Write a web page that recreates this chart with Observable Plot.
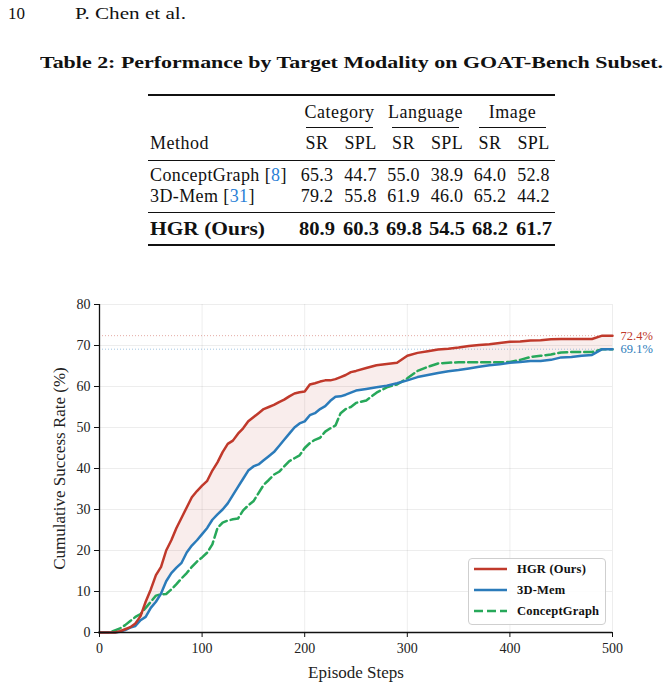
<!DOCTYPE html>
<html><head><meta charset="utf-8">
<script src="https://cdn.jsdelivr.net/npm/d3@7"></script>
<script src="https://cdn.jsdelivr.net/npm/@observablehq/plot@0.6"></script>
<style>
body{margin:0;background:#fff;width:668px;height:686px;position:relative;overflow:hidden;font-family:"Liberation Serif","Times New Roman",Times,serif;color:#111;}
.t{position:absolute;white-space:nowrap;line-height:1;}
.rule{position:absolute;background:#111;}
#chart{position:absolute;left:0;top:290px;}
#chart svg, #chart svg text{font-family:"Liberation Serif","Times New Roman",Times,serif !important;}
#legend{position:absolute;left:468px;top:558px;width:138px;height:67px;border:1px solid #cfcfcf;border-radius:4px;background:rgba(255,255,255,0.85);box-sizing:border-box;}
</style></head><body>
<div id="chart"></div>
<script>
// ---------- chart data ----------
const steps = [0,5,10,15,20,25,30,35,40,45,50,55,60,65,70,75,80,85,90,95,100,105,110,115,120,125,130,135,140,145,150,155,160,165,170,175,180,185,190,195,200,205,210,215,220,225,230,235,240,245,250,260,270,280,290,300,310,320,330,340,350,360,370,380,390,400,410,420,430,440,450,460,470,480,490,500];
const hgr = [0,0,0,0,0.3,0.8,1.3,2.2,4.0,7.5, 10.5,14.0,16.0,20.0,22.5,25.5,28.0,30.5,33.0,34.5, 35.8,37.0,39.5,41.5,44.0,46.0,46.8,48.5,49.8,51.5, 52.5,53.5,54.5,55.0,55.5,56.2,56.8,57.6,58.3,58.6, 58.8,60.5,60.8,61.2,61.5,61.5,61.8,62.3,62.8,63.5, 63.8,
  64.5,65.2,65.5,65.8,67.5,68.2,68.6,69.0,69.2,69.5, 69.9,70.1,70.3,70.6,70.9,71.0,71.2,71.3,71.5,71.6, 71.6,71.6,71.6,72.4,72.4];
const mem3d = [0,0,0,0,0.2,0.6,1.2,1.6,3.0,3.8, 6.0,7.5,9.5,12.5,14.5,15.8,17.0,19.5,21.2,22.5, 24.0,25.5,27.5,28.8,30.0,31.5,33.5,35.5,37.5,39.5, 40.5,41.0,42.0,43.0,44.0,45.5,47.0,48.5,50.0,51.0, 51.5,53.0,53.5,54.5,55.2,56.5,57.5,57.6,58.0,58.5, 59.0,
  59.4,59.8,60.2,60.8,61.5,62.3,62.8,63.3,63.7,64.0, 64.4,64.8,65.2,65.4,65.8,66.0,66.2,66.2,66.5,67.1, 67.2,67.5,67.7,69.1,69.1];
const conceptGraph = [0,0,0,0.5,1.0,1.8,2.8,3.8,4.5,6.0, 7.5,9.0,9.3,9.4,10.5,11.8,13.2,14.5,16.0,17.3, 18.3,19.5,21.5,25.5,26.8,27.3,27.6,27.8,29.8,31.0, 32.0,34.0,36.0,37.2,38.5,39.2,40.5,41.8,42.5,43.2, 45.0,46.2,47.0,47.5,49.0,49.8,50.5,53.5,54.5,55.0, 56.0,
  56.6,58.5,59.8,60.5,62.0,63.8,64.8,65.6,65.8,65.9, 65.9,65.9,65.9,65.9,66.0,66.5,67.2,67.5,67.8,68.3, 68.4,68.4,68.4,69.1,69.1];
const seriesNames = ["HGR (Ours)", "3D-Mem", "ConceptGraph"];
const seriesColors = ["#c0392b", "#2b7bba", "#27a85a"];
const xTicks = [0,100,200,300,400,500];
const yTicks = [0,10,20,30,40,50,60,70,80];
const xLabel = "Episode Steps";
const yLabel = "Cumulative Success Rate (%)";

// ---------- table data ----------
const pageNumber = "10";
const runningHead = "P. Chen et al.";
const tableTitle = "Table 2: Performance by Target Modality on GOAT-Bench Subset.";
const groups = ["Category", "Language", "Image"];
const metrics = ["SR", "SPL"];
const methods = ["ConceptGraph", "3D-Mem", "HGR (Ours)"];
const cites = ["8", "31", ""];
const tableRows = [
  [65.3, 44.7, 55.0, 38.9, 64.0, 52.8],
  [79.2, 55.8, 61.9, 46.0, 65.2, 44.2],
  [80.9, 60.3, 69.8, 54.5, 68.2, 61.7]
];

// ---------- page text helpers ----------
const page = document.body;
function txt(html, x, y, o = {}) {
  const d = document.createElement("div");
  d.className = "t";
  d.innerHTML = html;
  const size = o.size || 18;
  d.style.fontSize = size + "px";
  d.style.top = (y - size / 2) + "px";
  if (o.bold) d.style.fontWeight = "bold";
  if (o.ls) d.style.letterSpacing = o.ls + "px";
  d.style.left = "0px";
  page.appendChild(d);
  const w = d.getBoundingClientRect().width;
  const sx = o.fit ? o.fit / w : 1;
  const ww = w * sx;
  const left = o.align === "center" ? x - ww / 2 : o.align === "right" ? x - ww : x;
  d.style.left = left + "px";
  if (sx !== 1) { d.style.transformOrigin = "0 0"; d.style.transform = `scaleX(${sx})`; }
  return d;
}
function rule(x1, x2, y, h) {
  const r = document.createElement("div");
  r.className = "rule";
  r.style.left = x1 + "px"; r.style.width = (x2 - x1) + "px";
  r.style.top = (y - h / 2) + "px"; r.style.height = h + "px";
  page.appendChild(r);
}

txt(pageNumber, 8, 13, {size: 17, fit: 17});
txt(runningHead, 75, 13, {size: 17, fit: 111});
txt(tableTitle, 40, 62, {size: 17, bold: true, fit: 623});

// table layout
const colCenters = [317, 360.5, 403.5, 447, 490, 533.5];
const groupSpans = [[306, 373], [392, 459], [479, 546]];
rule(148, 555, 95, 1.6);
groups.forEach((g, i) => {
  txt(g, (groupSpans[i][0] + groupSpans[i][1]) / 2, 112, {size: 18, align: "center", ls: 0.5});
  rule(groupSpans[i][0], groupSpans[i][1], 127, 0.8);
});
txt("Method", 150, 143, {size: 18, ls: 0.5});
colCenters.forEach((c, i) => txt(metrics[i % 2], c, 143, {size: 18, align: "center", ls: 0.4}));
rule(148, 555, 160, 0.8);
const rowY = [175, 196, 229];
methods.forEach((m, r) => {
  const bold = r === methods.length - 1;
  const label = cites[r] ? `${m} [<span style="color:#2a7fd6">${cites[r]}</span>]` : m;
  txt(label, 150, rowY[r], bold ? {size: 18, bold, fit: 115} : {size: 18, ls: 0.4});
  tableRows[r].forEach((v, i) => txt(v.toFixed(1), colCenters[i], rowY[r],
    bold ? {size: 18, bold, align: "center", fit: 36} : {size: 18, align: "center", ls: 0.3}));
});
rule(148, 555, 212, 0.8);
rule(148, 555, 245, 1.6);

// ---------- chart ----------
const data = steps.map((s, i) => ({step: s, hgr: hgr[i], mem: mem3d[i], cg: conceptGraph[i]}));
const last = data[data.length - 1];
const FONT = "'Liberation Serif', 'Times New Roman', Times, serif";

const chart = Plot.plot({
  width: 668, height: 396,
  marginLeft: 99, marginRight: 56, marginTop: 14, marginBottom: 54,
  style: {fontFamily: FONT, fontSize: "14px", color: "#222", background: "transparent"},
  x: {domain: [0, 500]},
  y: {domain: [0, 80]},
  marks: [
    Plot.gridX(xTicks, {stroke: "#000", strokeOpacity: 0.07, strokeWidth: 1}),
    Plot.gridY(yTicks, {stroke: "#000", strokeOpacity: 0.07, strokeWidth: 1}),
    Plot.areaY(data, {x: "step", y1: "mem", y2: "hgr", curve: "linear", fill: seriesColors[0], fillOpacity: 0.09}),
    Plot.ruleY([last.hgr], {stroke: seriesColors[0], strokeOpacity: 0.55, strokeWidth: 0.8, strokeDasharray: "1,2"}),
    Plot.ruleY([last.mem], {stroke: seriesColors[1], strokeOpacity: 0.55, strokeWidth: 0.8, strokeDasharray: "1,2"}),
    Plot.line(data, {x: "step", y: "cg", stroke: seriesColors[2], strokeWidth: 2.5, strokeDasharray: "9,4", curve: "linear"}),
    Plot.line(data, {x: "step", y: "mem", stroke: seriesColors[1], strokeWidth: 2.5, curve: "linear"}),
    Plot.line(data, {x: "step", y: "hgr", stroke: seriesColors[0], strokeWidth: 2.5, curve: "linear"}),
    Plot.text([last], {x: "step", y: "hgr", text: d => d.hgr.toFixed(1) + "%", dx: 8, textAnchor: "start", fill: seriesColors[0], fontSize: 12.5}),
    Plot.text([last], {x: "step", y: "mem", text: d => d.mem.toFixed(1) + "%", dx: 8, textAnchor: "start", fill: seriesColors[1], fontSize: 12.5}),
    Plot.ruleX([0], {stroke: "#111", strokeWidth: 1.3}),
    Plot.ruleY([0], {stroke: "#111", strokeWidth: 1.3}),
    Plot.axisX(xTicks, {tickSize: 5, tickPadding: 6, fontSize: 14, stroke: "#111", label: xLabel, labelAnchor: "center", labelOffset: 45, labelArrow: "none"}),
    Plot.axisY(yTicks, {tickSize: 5, tickPadding: 4, fontSize: 14, stroke: "#111", label: yLabel, labelAnchor: "center", labelOffset: 47, labelArrow: "none"})
  ]
});
chart.setAttribute("font-family", FONT);
document.getElementById("chart").appendChild(chart);
chart.querySelectorAll('g[aria-label="x-axis label"], g[aria-label="y-axis label"]').forEach(g => g.setAttribute("font-size", "17"));
chart.querySelectorAll('g[aria-label="x-axis label"] text, g[aria-label="y-axis label"] text').forEach(t => { t.style.fontSize = "17px"; });

// ---------- legend ----------
const legend = document.createElement("div");
legend.id = "legend";
page.appendChild(legend);
const legendY = [10, 31, 52];
seriesNames.forEach((name, i) => {
  const dash = i === 2 ? 'stroke-dasharray="9,4"' : "";
  const row = document.createElement("div");
  row.style.cssText = `position:absolute;left:4px;top:${legendY[i] - 8}px;height:16px;display:flex;align-items:center;`;
  row.innerHTML = `<svg width="36" height="16"><line x1="1" x2="34" y1="8" y2="8" stroke="${seriesColors[i]}" stroke-width="2.5" ${dash}/></svg>` +
    `<span style="margin-left:8px;font-weight:bold;font-size:12.5px;letter-spacing:0.2px;white-space:nowrap;">${name}</span>`;
  legend.appendChild(row);
});
</script>
</body></html>
